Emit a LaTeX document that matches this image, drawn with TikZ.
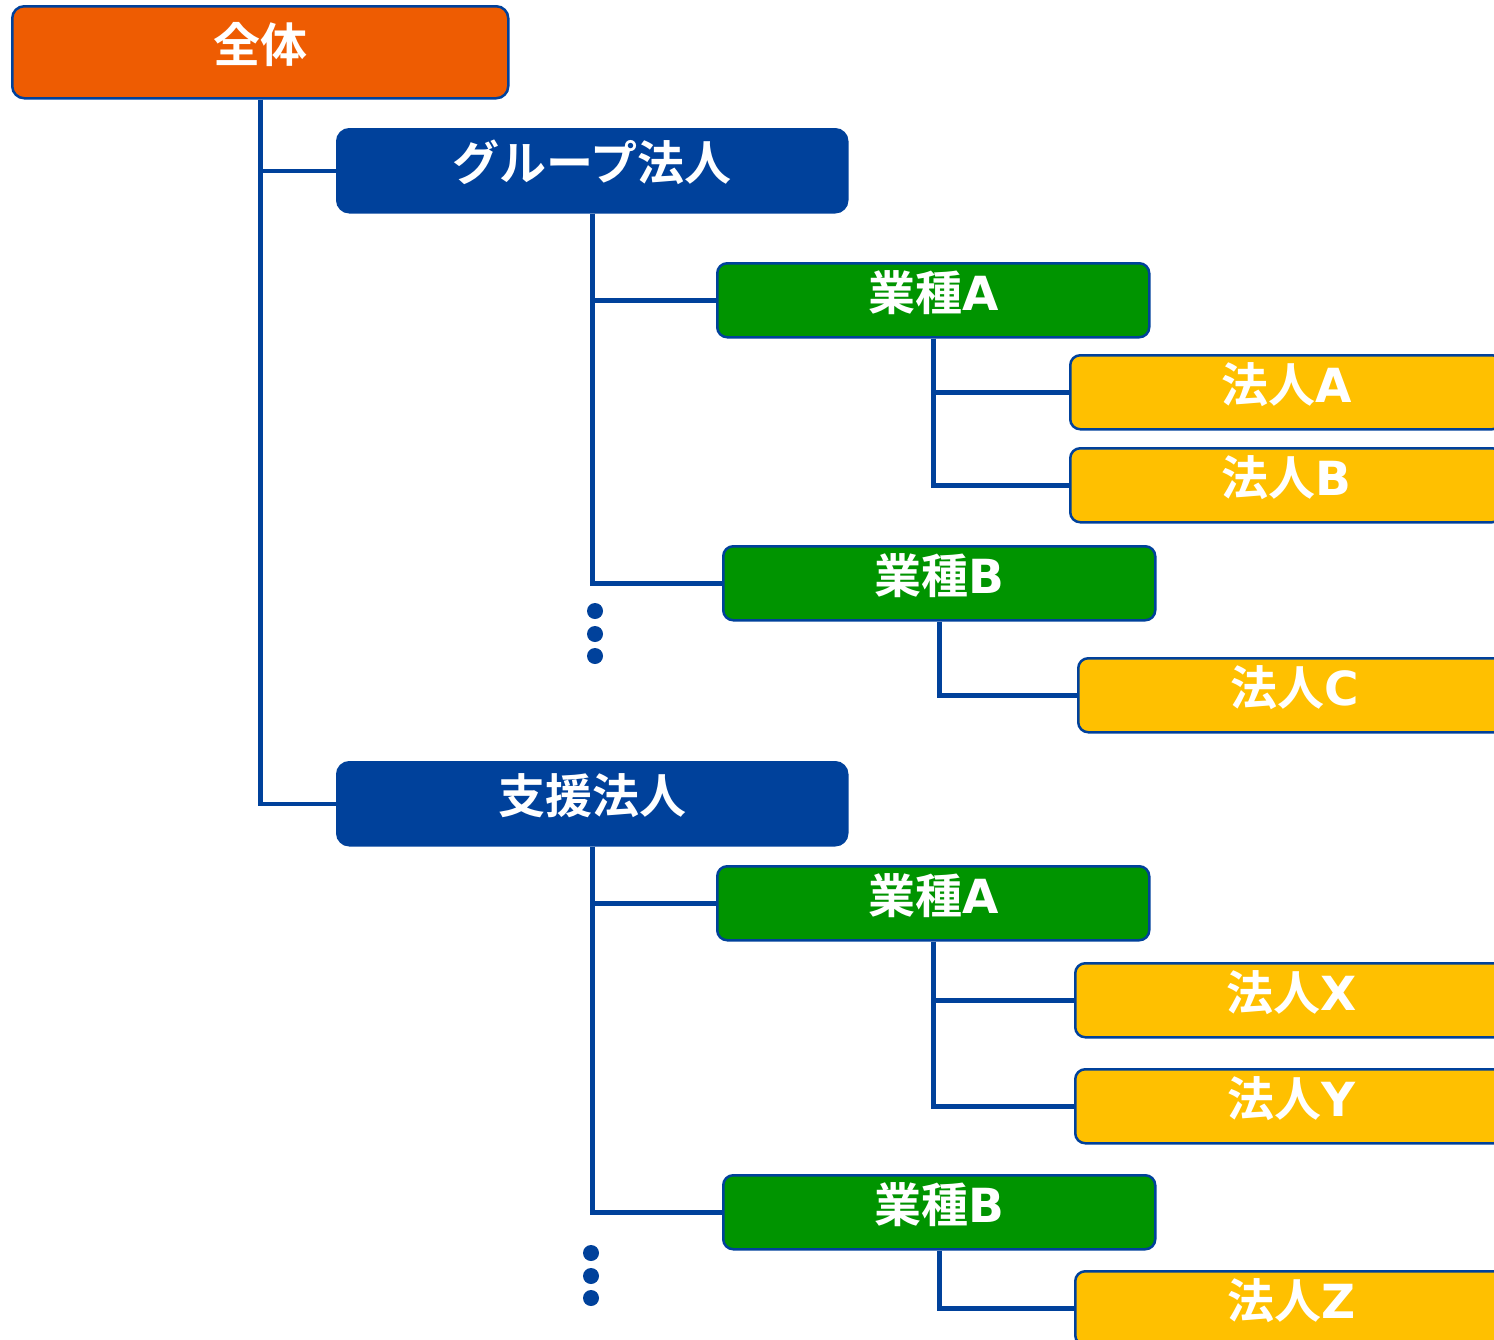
\documentclass[tikz,border=0pt]{standalone}
\usepackage{fontspec}
\newfontfamily\jpb{Noto Sans CJK JP Bold}
\newfontfamily\latb{DejaVu Sans}[BoldFont={DejaVu Sans Bold}]
\newcommand\lat[1]{{\latb\bfseries #1}}
\definecolor{cOrange}{HTML}{EE5C02}
\definecolor{cBlue}{HTML}{00419B}
\definecolor{cGreen}{HTML}{009400}
\definecolor{cYellow}{HTML}{FFC000}
\begin{document}
\begin{tikzpicture}[x=1pt,y=-1pt,
  box/.style={draw=cBlue, line width=2.5pt, anchor=north west, text=white, inner sep=0pt,
    text height=20pt, text depth=0pt,
    font=\jpb\fontsize{47}{50}\selectfont},
  lvlzero/.style={box, fill=cOrange, rounded corners=12pt, minimum width=496pt, minimum height=92pt},
  lvlone/.style={box, fill=cBlue, rounded corners=12pt, minimum width=510pt, minimum height=83pt},
  lvltwo/.style={box, fill=cGreen, rounded corners=10pt, minimum width=432pt, minimum height=74pt},
  lvlthree/.style={box, fill=cYellow, rounded corners=10pt, minimum width=432pt, minimum height=74pt},
  conn/.style={draw=cBlue, line width=4.5pt},
  dot/.style={circle, fill=cBlue, inner sep=0pt, minimum size=16pt}]
\useasboundingbox (0,0) rectangle (1494,1339);
\clip (0,0) rectangle (1494,1339);
% nodes
\node[lvlzero] (all) at (11,5) {全体};
\node[lvlone] (grp) at (336,128) {グループ法人};
\node[lvlone] (sup) at (336,761) {支援法人};
\node[lvltwo] (gA) at (716,262) {業種\lat{A}};
\node[lvltwo] (gB) at (722,545) {業種\lat{B}};
\node[lvlthree] (hA) at (1069,354) {法人\lat{A}};
\node[lvlthree] (hB) at (1069,447) {法人\lat{B}};
\node[lvlthree] (hC) at (1077,657) {法人\lat{C}};
\node[lvltwo] (sA) at (716,865) {業種\lat{A}};
\node[lvltwo] (sB) at (722,1174) {業種\lat{B}};
\node[lvlthree] (hX) at (1074,962) {法人\lat{X}};
\node[lvlthree] (hY) at (1074,1068) {法人\lat{Y}};
\node[lvlthree] (hZ) at (1074,1270) {法人\lat{Z}};
\node[dot] (d1) at (595,611) {};
\node[dot] (d2) at (595,634) {};
\node[dot] (d3) at (595,656) {};
\node[dot] (d4) at (591,1253) {};
\node[dot] (d5) at (591,1276) {};
\node[dot] (d6) at (591,1298) {};
% connectors
\draw[conn] (all.south) |- (grp.west);
\draw[conn] (all.south) |- (sup.west);
\draw[conn] (grp.south) |- (gA.west);
\draw[conn] (grp.south) |- (gB.west);
\draw[conn] (gA.south) |- (hA.west);
\draw[conn] (gA.south) |- (hB.west);
\draw[conn] (gB.south) |- (hC.west);
\draw[conn] (sup.south) |- (sA.west);
\draw[conn] (sup.south) |- (sB.west);
\draw[conn] (sA.south) |- (hX.west);
\draw[conn] (sA.south) |- (hY.west);
\draw[conn] (sB.south) |- (hZ.west);
\end{tikzpicture}
\end{document}
